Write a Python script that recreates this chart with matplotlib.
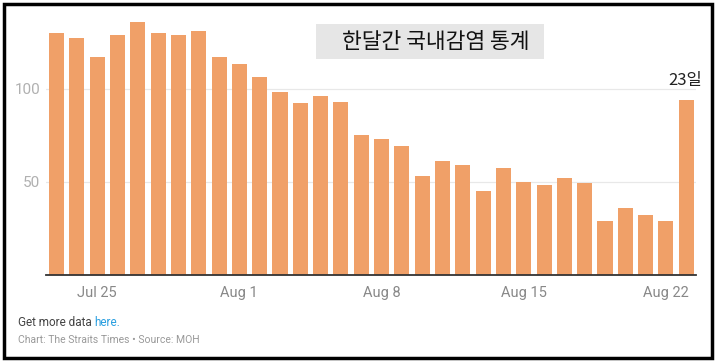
import matplotlib
matplotlib.use("Agg")
import matplotlib.pyplot as plt
from matplotlib.patches import Rectangle
import numpy as np

dates = ["Jul 23", "Jul 24", "Jul 25", "Jul 26", "Jul 27", "Jul 28", "Jul 29", "Jul 30", "Jul 31",
         "Aug 1", "Aug 2", "Aug 3", "Aug 4", "Aug 5", "Aug 6", "Aug 7", "Aug 8", "Aug 9", "Aug 10",
         "Aug 11", "Aug 12", "Aug 13", "Aug 14", "Aug 15", "Aug 16", "Aug 17", "Aug 18", "Aug 19",
         "Aug 20", "Aug 21", "Aug 22", "Aug 23"]
cases = [130, 127, 117, 129, 136, 130, 129, 131, 117, 113, 106, 98, 92, 96, 93, 75, 73, 69, 53,
         61, 59, 45, 57, 50, 48, 52, 49, 29, 36, 32, 29, 94]
tick_labels = ["Jul 25", "Aug 1", "Aug 8", "Aug 15", "Aug 22"]
y_ticks = [50, 100]
title = "한달간 국내감염 통계"
last_label = "23일"

plt.rcParams['font.family'] = ['Noto Sans CJK KR', 'DejaVu Sans']

fig = plt.figure(figsize=(7.18, 3.62), dpi=100)
ax = fig.add_axes([46/718, 87.5/362, 650/718, 269.7/362])

x = np.arange(len(dates))
ax.bar(x, cases, width=0.74, color="#F0A068", zorder=2)
ax.set_xlim(-0.52, len(dates) - 0.52)
ax.set_ylim(0, 145)

for v in y_ticks:
    ax.axhline(v, color="#e8e8e8", lw=0.9, zorder=1)
ax.set_yticks(y_ticks)
ax.set_yticklabels([str(v) for v in y_ticks], color="#b0b0b0", fontsize=11, family=['Roboto', 'DejaVu Sans'])
ax.tick_params(axis='y', length=0, pad=4)

tick_pos = [dates.index(t) for t in tick_labels]
ax.set_xticks(tick_pos)
ax.set_xticklabels(tick_labels, color="#888888", fontsize=10.5, family=['Roboto', 'DejaVu Sans'])
ax.tick_params(axis='x', length=0, pad=8)

for s in ["top", "right", "left"]:
    ax.spines[s].set_visible(False)
ax.spines["bottom"].set_color("#333333")
ax.spines["bottom"].set_linewidth(1.3)
ax.set_facecolor("none")

# title box
fig.patches.append(Rectangle((316/718, 1 - 59/362), 228/718, 35/362, transform=fig.transFigure,
                             facecolor="#e6e6e6", edgecolor="none", zorder=0))
fig.text(436/718, 1 - 41.5/362, title, ha="center", va="center", fontsize=15.5, color="#111111")

fig.text(685/718, 1 - 80/362, last_label, ha="center", va="center", fontsize=12, color="#222222")

# footer
t1 = fig.text(18/718, 1 - 323/362, "Get more data ", ha="left", va="center", fontsize=8.5,
              color="#444444", family=['Roboto', 'DejaVu Sans'])
fig.canvas.draw()
bb = t1.get_window_extent()
fig.text(bb.x1 / 718, 1 - 323/362, "here.", ha="left", va="center", fontsize=8.5,
         color="#2a9fe0", family=['Roboto', 'DejaVu Sans'])
fig.text(18/718, 1 - 340/362, "Chart: The Straits Times • Source: MOH", ha="left", va="center",
         fontsize=7.5, color="#999999", family=['Roboto', 'DejaVu Sans'])

# outer border
fig.patches.append(Rectangle((4/718, 4/362), 708/718, 354/362, transform=fig.transFigure,
                             facecolor="none", edgecolor="black", lw=2.5, zorder=10))

fig.savefig("out.png", dpi=100)
